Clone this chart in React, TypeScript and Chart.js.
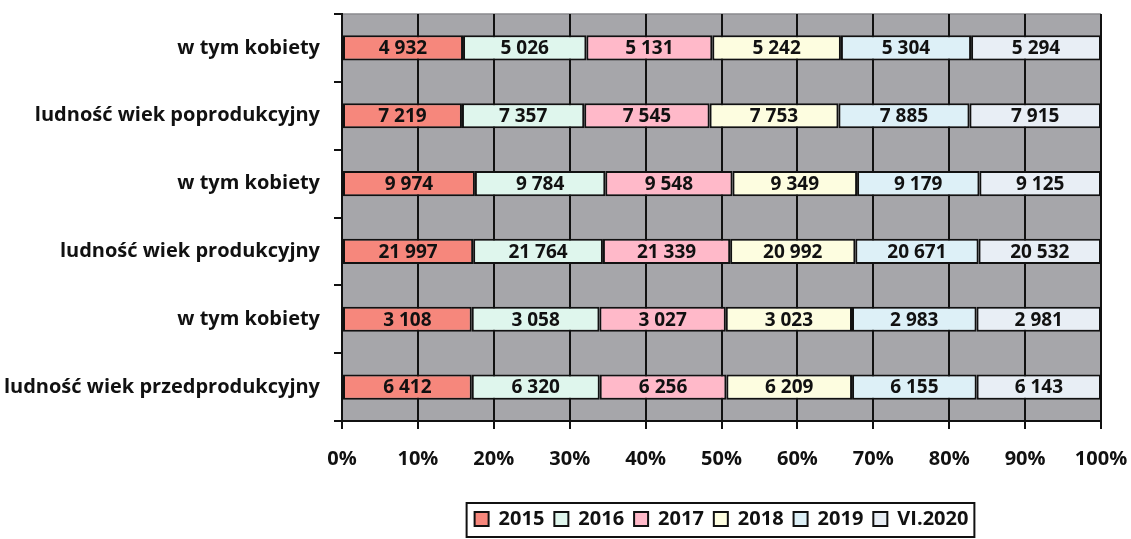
import React, { useEffect, useRef } from "react";
import { Chart, registerables } from "chart.js";

Chart.register(...registerables);

const categories = [
  "w tym kobiety",
  "ludność wiek poprodukcyjny",
  "w tym kobiety",
  "ludność wiek produkcyjny",
  "w tym kobiety",
  "ludność wiek przedprodukcyjny",
];

const seriesNames = ["2015", "2016", "2017", "2018", "2019", "VI.2020"];

const s2015 = [4932, 7219, 9974, 21997, 3108, 6412];
const s2016 = [5026, 7357, 9784, 21764, 3058, 6320];
const s2017 = [5131, 7545, 9548, 21339, 3027, 6256];
const s2018 = [5242, 7753, 9349, 20992, 3023, 6209];
const s2019 = [5304, 7885, 9179, 20671, 2983, 6155];
const s2020 = [5294, 7915, 9125, 20532, 2981, 6143];

const xTicks = [0, 10, 20, 30, 40, 50, 60, 70, 80, 90, 100];

const colors = ["#f6877c", "#dff6ed", "#ffb9c9", "#fdfde0", "#ddf0f7", "#e8eef5"];

const FONT = "'Open Sans', sans-serif";

const fmt = (n: number) => String(n).replace(/\B(?=(\d{3})+(?!\d))/g, " ");

export default function App() {
  const ref = useRef<HTMLCanvasElement | null>(null);

  useEffect(() => {
    const raw = [s2015, s2016, s2017, s2018, s2019, s2020];
    const totals = categories.map((_, c) => raw.reduce((a, s) => a + s[c], 0));
    const pct = raw.map((s) => s.map((v, c) => (v / totals[c]) * 100));

    const bgPlugin = {
      id: "bg",
      beforeDraw(chart: any) {
        const { ctx, chartArea } = chart;
        ctx.save();
        ctx.fillStyle = "#a6a6aa";
        ctx.fillRect(chartArea.left, chartArea.top, chartArea.right - chartArea.left, chartArea.bottom - chartArea.top);
        ctx.strokeStyle = "#8a8a8e";
        ctx.lineWidth = 1.5;
        ctx.beginPath();
        ctx.moveTo(chartArea.left, chartArea.top);
        ctx.lineTo(chartArea.right, chartArea.top);
        ctx.stroke();
        ctx.restore();
      },
    };

    const valuePlugin = {
      id: "values",
      afterDatasetsDraw(chart: any) {
        const { ctx } = chart;
        ctx.save();
        ctx.font = `bold 19px ${FONT}`;
        ctx.fillStyle = "#111";
        ctx.textAlign = "center";
        ctx.textBaseline = "middle";
        chart.data.datasets.forEach((_: any, i: number) => {
          const meta = chart.getDatasetMeta(i);
          meta.data.forEach((bar: any, j: number) => {
            const p = bar.getProps(["x", "base", "y"], true);
            ctx.fillText(fmt(raw[i][j]), (p.x + p.base) / 2, p.y + 1);
          });
        });
        ctx.restore();
      },
    };

    const legendBorder = {
      id: "legendBorder",
      afterDraw(chart: any) {
        const hb = chart.legend?.legendHitBoxes;
        if (!hb || !hb.length) return;
        const left = Math.min(...hb.map((h: any) => h.left)) - 8;
        const right = Math.max(...hb.map((h: any) => h.left + h.width)) + 6;
        const top = Math.min(...hb.map((h: any) => h.top)) - 6;
        const bottom = Math.max(...hb.map((h: any) => h.top + h.height)) + 8;
        const { ctx } = chart;
        ctx.save();
        ctx.strokeStyle = "#111";
        ctx.lineWidth = 2;
        ctx.strokeRect(left, top, right - left, bottom - top);
        ctx.restore();
      },
    };

    const chart = new Chart(ref.current!, {
      type: "bar",
      data: {
        labels: categories,
        datasets: seriesNames.map((name, i) => ({
          label: name,
          data: pct[i],
          backgroundColor: colors[i],
          borderColor: "#111",
          borderWidth: 2,
          borderSkipped: false,
          barPercentage: 0.37,
          categoryPercentage: 1,
        })),
      },
      options: {
        indexAxis: "y",
        animation: false,
        responsive: true,
        maintainAspectRatio: false,
        layout: { padding: { top: 14, right: 30, left: 0, bottom: 0 } },
        scales: {
          x: {
            stacked: true,
            min: 0,
            max: 100,
            afterFit(scale: any) {
              scale.height = 78;
              scale.paddingLeft = 0;
              scale.paddingRight = 0;
            },
            afterBuildTicks(scale: any) {
              scale.ticks = xTicks.map((v) => ({ value: v }));
            },
            ticks: {
              callback: (v: any) => v + "%",
              color: "#111",
              font: { family: FONT, size: 20, weight: "bold" },
              padding: 18,
              maxRotation: 0,
            },
            grid: { color: "#111", lineWidth: 2, tickLength: 8, drawTicks: true },
            border: { color: "#111", width: 2 },
          },
          y: {
            stacked: true,
            afterFit(scale: any) {
              scale.width = 342;
              scale.paddingTop = 0;
              scale.paddingBottom = 0;
            },
            ticks: {
              color: "#111",
              font: { family: FONT, size: 20, weight: "bold" },
              padding: 14,
            },
            grid: { drawOnChartArea: false, offset: true, color: "#111", lineWidth: 2, tickLength: 8 },
            border: { color: "#111", width: 2 },
          },
        },
        plugins: {
          legend: {
            position: "bottom",
            fullSize: false,
            labels: {
              color: "#111",
              font: { family: FONT, size: 20, weight: "bold" },
              boxWidth: 14,
              boxHeight: 14,
              padding: 10,
              useBorderRadius: false,
            },
          },
          tooltip: { enabled: false },
        },
      },
      plugins: [bgPlugin, valuePlugin, legendBorder],
    } as any);
    return () => chart.destroy();
  }, []);

  return (
    <div style={{ position: "absolute", left: 0, top: 0, width: 1131, height: 539 }}>
      <canvas ref={ref} />
    </div>
  );
}
